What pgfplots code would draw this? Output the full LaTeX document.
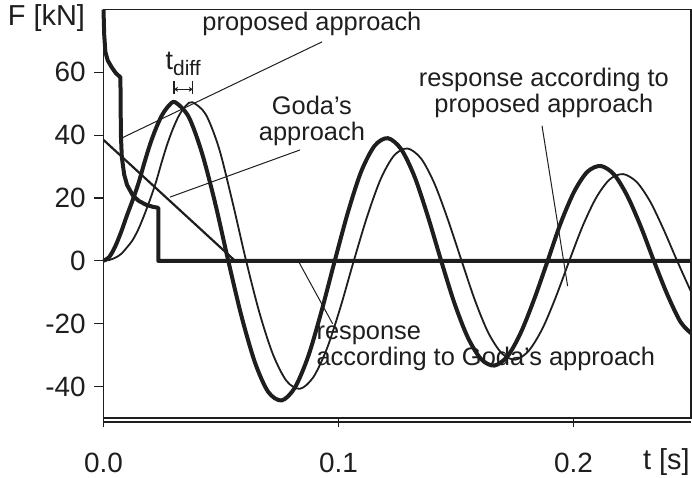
\documentclass[border=0pt]{standalone}
\usepackage{pgfplots}
\pgfplotsset{compat=1.18}
\usepackage{fontspec}
\setmainfont{Liberation Sans}
\usetikzlibrary{arrows.meta}
\definecolor{ink}{RGB}{30,30,30}
\newcommand\notefont{\fontsize{12.75}{13}\selectfont}
\newcommand\tickfont{\fontsize{14}{16}\selectfont}
\begin{document}
\begin{tikzpicture}
\notefont
\useasboundingbox (-51.75bp,-30bp) rectangle (294.25bp,209bp);
\begin{axis}[
  at={(0,0)}, anchor=south west,
  scale only axis, width=293.75bp, height=204.25bp,
  xmin=0, xmax=0.25, ymin=-50, ymax=80,
  xtick={0,0.1,0.2}, xticklabels={0.0,0.1,0.2},
  ytick={-40,-20,0,20,40,60}, yticklabels={-40,-20,0,20,40,60},
  tick align=outside, major tick length=4.5bp,
  xtick pos=bottom, ytick pos=left,
  every tick/.style={ink, line width=0.6bp},
  axis line style={ink, line width=0.6bp},
  tick label style={font=\tickfont, text=ink},
  xticklabel style={yshift=-8.5bp},
  clip=false,
]
% load of the proposed approach
\addplot[ink, line width=2bp, line join=round] coordinates {
(0,80) (0.0003,72) (0.0008,66.5) (0.0018,63.8) (0.0035,61.6) (0.0052,59.8)
(0.0072,58.4) (0.0074,40) (0.0078,33) (0.0088,27.5) (0.010,24.2) (0.0125,20.8)
(0.015,19.1) (0.018,17.9) (0.021,17.2) (0.0233,16.9) (0.0233,0) (0.25,0)
};
% load after Goda
\addplot[ink, line width=1.1bp] coordinates {(0,38.5) (0.056,0) (0.25,0)};
% response to the proposed load
\addplot[ink, line width=2bp, smooth] coordinates {
(0,0) (0.0025,1.3) (0.005,4.6) (0.0075,9.2) (0.010,14.5) (0.0125,19.5)
(0.015,25) (0.0175,31.5) (0.020,37.5) (0.0225,42.5) (0.025,46.5) (0.0278,49.4)
(0.0305,50.5) (0.0362,45.91) (0.0418,34.58) (0.0475,18.42) (0.0531,0)
(0.0588,-17.83) (0.0645,-32.43) (0.0701,-41.70) (0.0758,-44.41) (0.0814,-40.37)
(0.0871,-30.41) (0.0927,-16.20) (0.0984,0) (0.1041,15.68) (0.1097,28.52)
(0.1154,36.66) (0.1210,39.05) (0.1267,35.51) (0.1324,26.74) (0.1380,14.24)
(0.1437,0) (0.1493,-13.38) (0.1550,-24.32) (0.1607,-31.27) (0.1663,-33.31)
(0.1720,-30.28) (0.1776,-22.80) (0.1833,-12.14) (0.1890,0) (0.1946,12.13)
(0.2003,22.05) (0.2059,28.35) (0.2116,30.20) (0.2173,27.46) (0.2229,20.68)
(0.2286,11.01) (0.2342,0) (0.2399,-10.67) (0.2455,-19.39) (0.2500,-23.0)
};
% response to Goda's load
\addplot[ink, line width=0.9bp, smooth] coordinates {
(0,0) (0.0025,0.3) (0.005,1.0) (0.0075,2.2) (0.010,4.3) (0.0123,6.5)
(0.0148,10) (0.0173,14.5) (0.0198,19.5) (0.0223,25) (0.0248,31.5) (0.0273,37.5)
(0.0298,42.5) (0.0323,46.5) (0.0351,49.4) (0.0378,50.5) (0.0435,46.66)
(0.0492,35.71) (0.0550,18.4) (0.0607,0) (0.0664,-16.6) (0.0721,-29.73)
(0.0779,-38.22) (0.0836,-40.70) (0.0893,-37.00) (0.0951,-27.87) (0.1008,-14.84)
(0.1065,0) (0.1123,14.37) (0.1180,26.12) (0.1237,33.58) (0.1294,35.76)
(0.1352,32.51) (0.1409,24.49) (0.1466,13.04) (0.1524,0) (0.1581,-12.63)
(0.1638,-22.95) (0.1696,-29.51) (0.1753,-31.43) (0.1810,-28.57) (0.1868,-21.52)
(0.1925,-11.46) (0.1982,0) (0.2039,11.09) (0.2097,20.17) (0.2154,25.93)
(0.2211,27.62) (0.2269,25.10) (0.2326,18.91) (0.2383,10.07) (0.2441,0)
(0.2500,-9.8)
};
% annotations
\draw[ink, line width=0.5bp] (axis cs:0.0075,39) -- (axis cs:0.093,69.7);
\node[text=ink] at (axis cs:0.0887,75.4) {proposed approach};
\draw[ink, line width=0.5bp] (axis cs:0.0283,20.3) -- (axis cs:0.0836,35.3);
\node[text=ink, align=center, inner sep=0pt] at (axis cs:0.0887,44.4) {Goda's\\approach};
\node[text=ink, align=center, inner sep=0pt] at (axis cs:0.1874,53.4) {response according to\\proposed approach};
\draw[ink, line width=0.5bp] (axis cs:0.1866,43) -- (axis cs:0.1975,-8);
\node[text=ink, align=left, anchor=west, inner sep=0pt] at (axis cs:0.0905,-27.7) {response\\according to Goda's approach};
\draw[ink, line width=0.5bp] (axis cs:0.0825,0.5) -- (axis cs:0.0975,-20);
% time lag between the two first peaks
\draw[ink, line width=0.6bp] (axis cs:0.0300,57.4) -- (axis cs:0.0300,53.2);
\draw[ink, line width=0.6bp] (axis cs:0.0380,57.4) -- (axis cs:0.0380,53.2);
\draw[ink, line width=0.6bp, {Stealth[length=2bp,width=2.5bp]}-{Stealth[length=2bp,width=2.5bp]}] (axis cs:0.0300,54.6) -- (axis cs:0.0380,54.6);
\node[text=ink, inner sep=0pt] at (axis cs:0.0339,62.6) {\fontsize{13.5}{14}\selectfont t\raisebox{-0.45ex}{\fontsize{10.5}{11}\selectfont diff}};
% axis titles
\node[text=ink, inner sep=0pt] at (axis cs:-0.0243,77.3) {\fontsize{14.5}{15}\selectfont F [kN]};
\node[text=ink, inner sep=0pt] at (axis cs:0.2395,-64) {\fontsize{14.5}{15}\selectfont t [s]};
\end{axis}
\draw[ink, line width=0.6bp] (0,-2bp) -- (293.75bp,-2bp);
\end{tikzpicture}
\end{document}
